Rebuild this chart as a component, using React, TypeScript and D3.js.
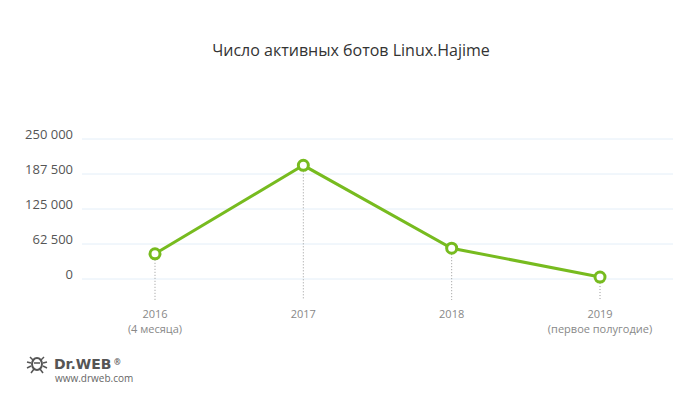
import React from "react";
import * as d3 from "d3";

const years = ["2016", "2017", "2018", "2019"];
const subLabels = ["(4 месяца)", "", "", "(первое полугодие)"];
const bots = [45000, 203000, 55000, 3500];
const yTicks = [0, 62500, 125000, 187500, 250000];

const W = 700;
const H = 400;
const green = "#77bb1f";

const fmt = (v: number) => d3.format(",")(v).replace(/,/g, " ");

export default function App() {
  const x = d3.scalePoint<string>().domain(years).range([155, 600]);
  const y = d3.scaleLinear().domain([0, 250000]).range([279, 139]);
  const line = d3
    .line<number>()
    .x((_, i) => x(years[i]) as number)
    .y((d) => y(d));

  const font = "'Open Sans', 'Noto Sans', sans-serif";

  return (
    <svg
      width={W}
      height={H}
      style={{ position: "absolute", left: 0, top: 0, background: "#fff" }}
      fontFamily={font}
    >
      <text x={351} y={56} textAnchor="middle" fontSize={16} fill="#333">
        Число активных ботов Linux.Hajime
      </text>

      {yTicks.map((t) => (
        <g key={t}>
          <line x1={82} x2={673} y1={y(t)} y2={y(t)} stroke="#e3eef8" strokeWidth={1} />
          <text x={73} y={y(t)} textAnchor="end" fontSize={13} fill="#555">
            {fmt(t)}
          </text>
        </g>
      ))}

      {bots.map((v, i) => (
        <line
          key={"d" + i}
          x1={x(years[i])}
          x2={x(years[i])}
          y1={y(v)}
          y2={300}
          stroke="#999"
          strokeWidth={1}
          strokeDasharray="1,2"
        />
      ))}

      <path d={line(bots) || ""} fill="none" stroke={green} strokeWidth={3} />

      {bots.map((v, i) => (
        <circle
          key={"c" + i}
          cx={x(years[i])}
          cy={y(v)}
          r={5}
          fill="#fff"
          stroke={green}
          strokeWidth={3}
        />
      ))}

      {years.map((yr, i) => (
        <g key={yr}>
          <text x={x(yr)} y={318} textAnchor="middle" fontSize={11} fill="#888">
            {yr}
          </text>
          {subLabels[i] && (
            <text x={x(yr)} y={333} textAnchor="middle" fontSize={11} fill="#888">
              {subLabels[i]}
            </text>
          )}
        </g>
      ))}

      {/* Dr.WEB logo */}
      <g transform="translate(37,364)" fill="#555" stroke="#555">
        <ellipse cx={0} cy={0} rx={5} ry={6} fill="none" strokeWidth={2} />
        <line x1={-3} y1={-1} x2={3} y2={-1} strokeWidth={1.5} />
        <line x1={-7} y1={-7} x2={-4} y2={-4} strokeWidth={1.5} />
        <line x1={7} y1={-7} x2={4} y2={-4} strokeWidth={1.5} />
        <line x1={-10} y1={-2} x2={-6} y2={-1} strokeWidth={1.5} />
        <line x1={10} y1={-2} x2={6} y2={-1} strokeWidth={1.5} />
        <line x1={-10} y1={4} x2={-6} y2={2} strokeWidth={1.5} />
        <line x1={10} y1={4} x2={6} y2={2} strokeWidth={1.5} />
        <line x1={-6} y1={9} x2={-3} y2={5} strokeWidth={1.5} />
        <line x1={6} y1={9} x2={3} y2={5} strokeWidth={1.5} />
      </g>
      <text x={54} y={369} fontSize={14} fontWeight="bold" fill="#555" fontFamily="'DejaVu Sans', sans-serif">
        Dr.WEB
      </text>
      <text x={114} y={365} fontSize={8} fontWeight="bold" fill="#555">®</text>
      <text x={55} y={382} fontSize={10} fill="#666">
        www.drweb.com
      </text>
    </svg>
  );
}
